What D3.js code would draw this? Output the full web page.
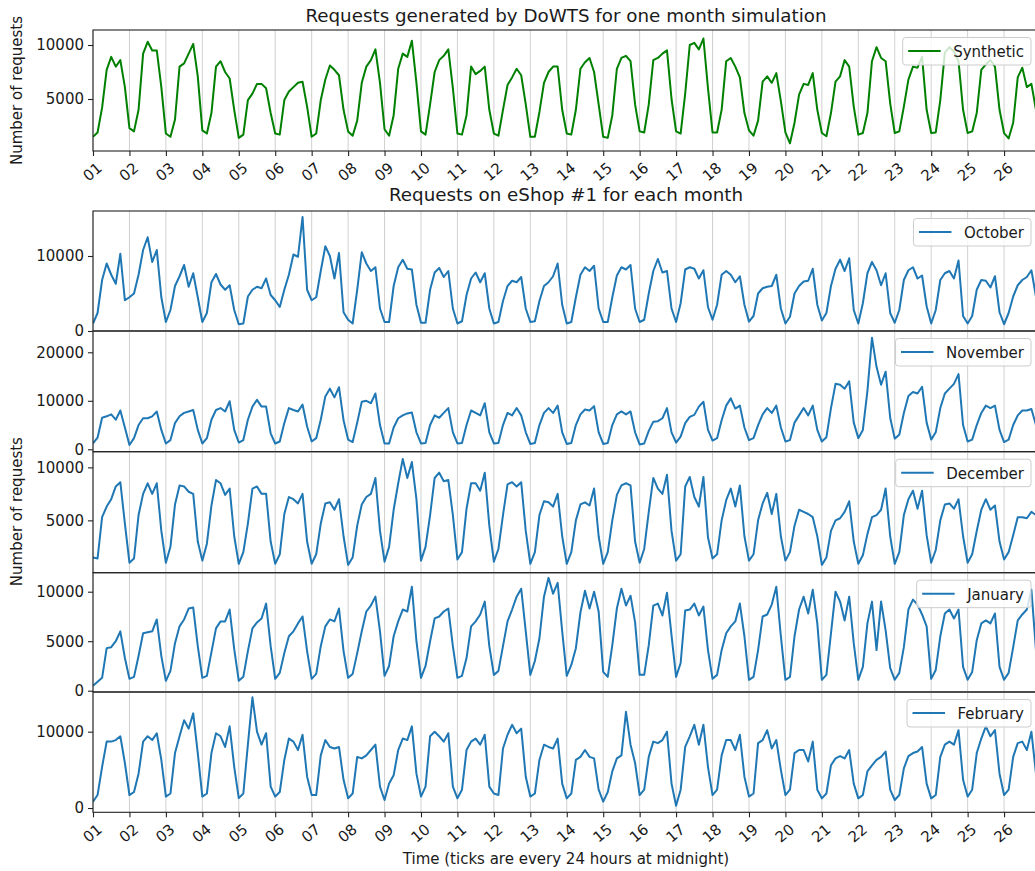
<!DOCTYPE html>
<html>
<head>
<meta charset="utf-8">
<script src="https://cdn.jsdelivr.net/npm/d3@7"></script>
<style>
  body { margin: 0; background: #fff; }
  text { font-family: "DejaVu Sans", sans-serif; fill: #1a1a1a; }
</style>
</head>
<body>
<svg id="chart"></svg>
<script>
// one row per day, values every 3 hours (00h, 03h, ... 21h)
const synthetic = [
  [1500, 1900, 4200, 7700, 8900, 8000, 8600, 6100],
  [2300, 2000, 4000, 9200, 10300, 9500, 9500, 6100],
  [1800, 1500, 3100, 8000, 8300, 9200, 10100, 7100],
  [2100, 1800, 3700, 8000, 8500, 7500, 6900, 4000],
  [1400, 1700, 4900, 5500, 6400, 6400, 6000, 3700],
  [1800, 1700, 4900, 5700, 6100, 6500, 6600, 4300],
  [1500, 1800, 4900, 6800, 8100, 7700, 7200, 4000],
  [2000, 1600, 3000, 6500, 8000, 8600, 9600, 6500],
  [2200, 1600, 3500, 7800, 9200, 8900, 10400, 6500],
  [2000, 1700, 4500, 7500, 8600, 9000, 9600, 6000],
  [1800, 1700, 3500, 8000, 7300, 7600, 8000, 4000],
  [1800, 1600, 4000, 6300, 7000, 7800, 7200, 4500],
  [1500, 1500, 3800, 6500, 7500, 8000, 8000, 4000],
  [1800, 1700, 4000, 7800, 8400, 8800, 7500, 4500],
  [1500, 1400, 3500, 7800, 8800, 9000, 8500, 4500],
  [2000, 1900, 4500, 8600, 8800, 9200, 9500, 5000],
  [2000, 1800, 5500, 10000, 10200, 9600, 10600, 6000],
  [1900, 1900, 4000, 8500, 8800, 8000, 7000, 3700],
  [2100, 1600, 3000, 6600, 7100, 6500, 7400, 4800],
  [1900, 900, 2800, 5400, 6400, 6300, 7400, 4000],
  [1850, 1550, 3700, 6600, 7100, 8600, 8000, 4300],
  [1700, 1850, 3700, 8500, 9800, 8800, 8500, 4600],
  [1850, 2000, 4300, 6800, 8000, 7900, 8900, 4000],
  [1850, 1900, 4900, 9300, 9800, 9400, 8500, 4000],
  [1850, 2000, 3700, 7700, 8200, 8600, 8000, 4000],
  [1850, 1350, 2800, 7000, 7900, 6100, 6400, 4000]
];

const october = [
  [1000, 2400, 6800, 9000, 7500, 6300, 10300, 4100],
  [4500, 5000, 7500, 10800, 12500, 9200, 10800, 4500],
  [1200, 2800, 6000, 7300, 8800, 5900, 7700, 4500],
  [1200, 2400, 6500, 7600, 6200, 5500, 6100, 2800],
  [900, 1000, 4600, 5500, 5900, 5700, 7000, 4800],
  [4100, 3200, 5500, 7500, 10200, 9900, 15200, 5500],
  [4100, 4500, 8000, 11300, 10000, 7000, 10400, 2500],
  [1500, 1000, 5500, 10500, 9000, 8000, 8500, 3000],
  [1200, 1200, 6000, 8500, 9500, 8300, 8200, 3500],
  [1100, 1100, 5500, 7800, 8400, 7200, 8000, 3000],
  [1000, 1300, 4800, 7000, 7800, 6500, 7700, 3000],
  [1000, 1200, 4000, 6000, 6700, 6500, 7200, 3000],
  [1200, 1300, 4000, 6000, 6500, 7300, 9000, 3500],
  [1000, 1200, 4500, 7500, 8500, 8000, 8700, 3000],
  [1200, 1200, 4500, 7400, 8500, 8200, 8800, 3000],
  [1200, 1500, 5000, 8000, 9600, 7800, 8000, 3000],
  [1200, 3700, 8200, 8500, 8300, 7000, 8100, 3200],
  [1500, 3500, 7500, 8000, 7500, 6500, 7300, 3500],
  [1250, 2000, 5000, 5700, 5900, 6000, 7500, 3000],
  [1000, 1900, 5000, 6000, 6600, 6700, 8300, 3500],
  [1400, 2400, 6000, 8300, 9500, 8000, 9700, 2800],
  [1000, 3700, 7700, 9200, 8100, 6100, 7700, 2400],
  [1100, 2800, 6800, 8100, 8500, 7000, 7400, 3300],
  [1000, 2800, 6800, 7700, 8000, 7000, 9400, 2000],
  [1000, 2000, 5500, 6800, 6700, 5800, 7300, 2500],
  [900, 2400, 4600, 6100, 6800, 7200, 8100, 4600]
];

const november = [
  [1200, 2400, 6500, 6800, 7200, 6100, 8000, 4500],
  [900, 2300, 5000, 6400, 6400, 6800, 7800, 4000],
  [1200, 1900, 5400, 6800, 7500, 7800, 8100, 4000],
  [1200, 2300, 6100, 8100, 8500, 7800, 9900, 4000],
  [1400, 1900, 6100, 8800, 10200, 8800, 8800, 3300],
  [1200, 1600, 5400, 8500, 8100, 7800, 9200, 4700],
  [1600, 2300, 6100, 10900, 12500, 10700, 12800, 6000],
  [2000, 1500, 5500, 9800, 10000, 9500, 11500, 5000],
  [1200, 1200, 4500, 6400, 7000, 7400, 7600, 3500],
  [1200, 1300, 5000, 7000, 6500, 7500, 8500, 3500],
  [1200, 1300, 5000, 8000, 7500, 7000, 9500, 3500],
  [1200, 1300, 5000, 7500, 7000, 8500, 7000, 3500],
  [1100, 1300, 5000, 7500, 8500, 7500, 9000, 3500],
  [1100, 1300, 5000, 7200, 8200, 8000, 8900, 3500],
  [1100, 1300, 5000, 7200, 7800, 7200, 7800, 3500],
  [1000, 1200, 3800, 5700, 5800, 6400, 8500, 3500],
  [1400, 2600, 5400, 6700, 7100, 8800, 9800, 4000],
  [1800, 2300, 6000, 9000, 10500, 8400, 9000, 4500],
  [1900, 2300, 5000, 7200, 8500, 7500, 9000, 4500],
  [1600, 1900, 5500, 7000, 8500, 7000, 9000, 4000],
  [1600, 2500, 8500, 13500, 13300, 12500, 14000, 5500],
  [2300, 4000, 12000, 23000, 17000, 13300, 16000, 6500],
  [2200, 3000, 7500, 11000, 11800, 11500, 12900, 5500],
  [2000, 3500, 8500, 11500, 12500, 13500, 15500, 5000],
  [1600, 2000, 5000, 7500, 9000, 8500, 9000, 4000],
  [1500, 2000, 5000, 7000, 8000, 8000, 8300, 5000]
];

const december = [
  [1500, 1400, 5300, 6300, 7000, 8200, 8600, 4700],
  [1000, 1400, 5500, 7500, 8500, 7500, 8500, 4000],
  [1000, 2500, 6500, 8300, 8200, 7700, 7500, 3000],
  [1200, 2800, 6400, 8800, 8500, 7400, 8000, 3500],
  [900, 2000, 4700, 8000, 8200, 7500, 7500, 3000],
  [900, 1800, 5600, 7200, 7000, 6600, 7500, 3000],
  [900, 1800, 4700, 6600, 6700, 6000, 7000, 3500],
  [800, 1500, 4500, 6500, 7200, 7500, 9000, 4000],
  [1100, 2500, 6000, 8500, 10800, 9000, 10500, 7000],
  [1200, 2500, 5500, 9000, 9500, 8700, 8800, 5500],
  [1300, 2000, 6100, 8500, 8500, 7800, 9500, 4500],
  [1100, 2300, 5500, 8400, 8600, 8200, 8600, 4000],
  [900, 2000, 5500, 6800, 6700, 6300, 7500, 3500],
  [900, 2000, 5000, 6500, 6700, 6400, 8000, 3500],
  [900, 2000, 5000, 7400, 8300, 8500, 8300, 3000],
  [1000, 2300, 5800, 9000, 8000, 7500, 9300, 4000],
  [1200, 1800, 8200, 9100, 7200, 6300, 9100, 3400],
  [1400, 1800, 5000, 6900, 8000, 6300, 8300, 3500],
  [1200, 1800, 5000, 6600, 7600, 5600, 7500, 3500],
  [1200, 2000, 4500, 6000, 5800, 5600, 5300, 3500],
  [800, 1500, 4000, 5000, 5200, 5800, 6800, 3000],
  [900, 1700, 3700, 5300, 5500, 6000, 8000, 3500],
  [900, 2000, 5500, 7000, 7800, 6100, 7800, 3600],
  [1000, 2200, 5000, 6500, 6600, 6100, 7000, 3500],
  [1000, 1800, 4000, 6000, 7000, 6000, 6400, 3000],
  [1300, 2000, 3600, 5300, 5300, 5200, 5800, 5500]
];

const january = [
  [500, 900, 1300, 4300, 4400, 5000, 6000, 3300],
  [1200, 1400, 3500, 5800, 5900, 6000, 7200, 3500],
  [1000, 2000, 4800, 6500, 7200, 8300, 8400, 4500],
  [1300, 1500, 3900, 6300, 7000, 7000, 8200, 4200],
  [1000, 1400, 4000, 6300, 6900, 7300, 8800, 4500],
  [1200, 1800, 3800, 5500, 6000, 6800, 7500, 4000],
  [1200, 1700, 4500, 6500, 7200, 7000, 8300, 4000],
  [1300, 1700, 3800, 6000, 8000, 8600, 9500, 6000],
  [1500, 2500, 5500, 7000, 8200, 8000, 10500, 5000],
  [1300, 2500, 5000, 7300, 7500, 8000, 8300, 4500],
  [1300, 1500, 3300, 6500, 7000, 7700, 9000, 4500],
  [1600, 2000, 4500, 7000, 8200, 9500, 10300, 6000],
  [1600, 3000, 5300, 9500, 11400, 9800, 10900, 6000],
  [1500, 2600, 4300, 7900, 10100, 8300, 10000, 8000],
  [1900, 1400, 4600, 8300, 10300, 8600, 9600, 6900],
  [1600, 1600, 4600, 8600, 8800, 7600, 9900, 5600],
  [1400, 2800, 8100, 8200, 8800, 7600, 8500, 4100],
  [1200, 1600, 4100, 5800, 6500, 7000, 8800, 5500],
  [1100, 1400, 4100, 7500, 7700, 8700, 10500, 5500],
  [1100, 1400, 5500, 8200, 9500, 7800, 10200, 6800],
  [1100, 1600, 5800, 10000, 9000, 7100, 9500, 4800],
  [1100, 2400, 6800, 9000, 4100, 9000, 6100, 2300],
  [1100, 1800, 4400, 8200, 9200, 8700, 7700, 6500],
  [1200, 2100, 5500, 7800, 8200, 7300, 8200, 2400],
  [1100, 1900, 5100, 6800, 7100, 6800, 7800, 2400],
  [1100, 1800, 4400, 7100, 7700, 8200, 10200, 4100]
];

const february = [
  [830, 1700, 5400, 8700, 8700, 8900, 9400, 5900],
  [1700, 2100, 4500, 8700, 9400, 8900, 9800, 6300],
  [1500, 1900, 7200, 9400, 11500, 10400, 12400, 7200],
  [1500, 1900, 7200, 9800, 9400, 8000, 10700, 5400],
  [1300, 1900, 8300, 14500, 10000, 8300, 9800, 2800],
  [1500, 2100, 6300, 9100, 8700, 7600, 9600, 4100],
  [1700, 1700, 6900, 8900, 8000, 7800, 8000, 3700],
  [1270, 1900, 6700, 6500, 6900, 7600, 8300, 2800],
  [1050, 3200, 4300, 7600, 9100, 8900, 10700, 4500],
  [1500, 2800, 9400, 10000, 9400, 8700, 9800, 2800],
  [1270, 2400, 7600, 8700, 9100, 8300, 9600, 2800],
  [1900, 1700, 7800, 9600, 10900, 9800, 10400, 4100],
  [1500, 1900, 6300, 8300, 8000, 7800, 9100, 3200],
  [1270, 1900, 6300, 6700, 7600, 6700, 6500, 2400],
  [830, 2100, 4800, 6500, 6900, 12600, 8300, 5900],
  [1700, 2400, 6700, 8700, 8500, 8900, 10000, 3200],
  [300, 2400, 8000, 9400, 10900, 8300, 10900, 5400],
  [1700, 2400, 6900, 8900, 8900, 7600, 9600, 4100],
  [1500, 1900, 8500, 8900, 10200, 7800, 8900, 5000],
  [1700, 2400, 7200, 7600, 7600, 6100, 8700, 2400],
  [1270, 1900, 5600, 6500, 6800, 6500, 7600, 3200],
  [1270, 1700, 4800, 5600, 6300, 6700, 7400, 2400],
  [1050, 1700, 5200, 6800, 7200, 7400, 8000, 3200],
  [1270, 1700, 6700, 8300, 8700, 8300, 10200, 3700],
  [1500, 2400, 7200, 9100, 10700, 9400, 10200, 4500],
  [1700, 2400, 6700, 8500, 8700, 7600, 10000, 4500]
];

const yTicks = {
  Synthetic: [5000, 10000],
  October: [0, 10000],
  November: [0, 10000, 20000],
  December: [5000, 10000],
  January: [0, 5000, 10000],
  February: [0, 10000]
};

const topTitle = "Requests generated by DoWTS for one month simulation";
const bottomTitle = "Requests on eShop #1 for each month";
const yLabel = "Number of requests";
const xLabel = "Time (ticks are every 24 hours at midnight)";

// layout
const W = 1035, H = 871;
const left = 93, right = 1039;
const fs = "15px", titleFs = "18.3px";
const stepHours = 3;
const start = new Date(2021, 0, 1);
const end = d3.timeHour.offset(start, 25 * 24 + 23);

const panels = [
  { name: "Synthetic", data: synthetic, color: "#008000", top: 30, bottom: 151, domain: [185, 11390] },
  { name: "October", data: october, color: "#1f77b4", top: 211, bottom: 331, domain: [0, 16000] },
  { name: "November", data: november, color: "#1f77b4", top: 331, bottom: 451.7, domain: [-495, 24390] },
  { name: "December", data: december, color: "#1f77b4", top: 451.7, bottom: 572.7, domain: [60, 11480] },
  { name: "January", data: january, color: "#1f77b4", top: 572.7, bottom: 692, domain: [-130, 11920] },
  { name: "February", data: february, color: "#1f77b4", top: 692, bottom: 812.3, domain: [-560, 15200] }
];

const svg = d3.select("#chart").attr("width", W).attr("height", H)
  .style("display", "block").style("background", "#fff");

const x = d3.scaleTime().domain([start, end]).range([left, right]);
const days = d3.timeDay.range(start, d3.timeHour.offset(end, 1));

panels.forEach(function (p, k) {
  const y = d3.scaleLinear().domain(p.domain).range([p.bottom, p.top]);
  const pts = p.data.flat().map((v, i) => ({ t: d3.timeHour.offset(start, i * stepHours), v: v }));

  const g = svg.append("g");
  const clipId = "clip" + k;
  g.append("clipPath").attr("id", clipId)
    .append("rect").attr("x", left).attr("y", p.top)
    .attr("width", right - left).attr("height", p.bottom - p.top);

  // vertical grid
  g.append("g").selectAll("line").data(days).enter().append("line")
    .attr("x1", d => x(d)).attr("x2", d => x(d))
    .attr("y1", p.top).attr("y2", p.bottom)
    .attr("stroke", "#b0b0b0").attr("stroke-opacity", 0.6).attr("stroke-width", 1);

  const line = d3.line().x(d => x(d.t)).y(d => y(d.v));
  g.append("path").datum(pts)
    .attr("clip-path", "url(#" + clipId + ")")
    .attr("fill", "none").attr("stroke", p.color)
    .attr("stroke-width", 2).attr("stroke-linejoin", "round")
    .attr("d", line);

  // frame
  g.append("rect").attr("x", left).attr("y", p.top)
    .attr("width", right - left).attr("height", p.bottom - p.top)
    .attr("fill", "none").attr("stroke", "#222").attr("stroke-width", 1.1);

  // y axis
  const ya = g.append("g").attr("transform", "translate(" + left + ",0)")
    .call(d3.axisLeft(y).tickValues(yTicks[p.name]).tickSize(5).tickPadding(4).tickFormat(d3.format("d")));
  ya.select(".domain").remove();
  ya.selectAll("line").attr("stroke", "#222").attr("stroke-width", 1.1);
  ya.selectAll("text").attr("font-size", fs).attr("fill", "#1a1a1a")
    .style("font-family", "'DejaVu Sans', sans-serif");

  // x axis on the first and last panels
  if (k === 0 || k === panels.length - 1) {
    const xa = g.append("g").attr("transform", "translate(0," + p.bottom + ")")
      .call(d3.axisBottom(x).tickValues(days).tickSize(5).tickFormat(d3.timeFormat("%d")));
    xa.select(".domain").remove();
    xa.selectAll("line").attr("stroke", "#222").attr("stroke-width", 1.1);
    xa.selectAll("text")
      .attr("y", 0).attr("dy", null)
      .attr("transform", "translate(-1,21) rotate(-40)")
      .attr("text-anchor", "middle").attr("dominant-baseline", "central")
      .attr("font-size", fs).attr("fill", "#1a1a1a")
      .style("font-family", "'DejaVu Sans', sans-serif");
  }

  // legend (upper right)
  const lg = g.append("g");
  const box = lg.append("rect");
  const txt = lg.append("text").text(p.name).attr("font-size", fs)
    .attr("dominant-baseline", "central");
  const tw = txt.node().getComputedTextLength();
  const bw = 5.5 + 32.5 + 12.5 + tw + 7;
  const bx = 1031 - bw, by = p.top + 7.5;
  box.attr("x", bx).attr("y", by).attr("width", bw).attr("height", 27.5)
    .attr("rx", 3).attr("fill", "#fff").attr("fill-opacity", 0.8)
    .attr("stroke", "#cccccc").attr("stroke-width", 1);
  lg.append("line").attr("x1", bx + 5.5).attr("x2", bx + 38)
    .attr("y1", by + 13.5).attr("y2", by + 13.5)
    .attr("stroke", p.color).attr("stroke-width", 2);
  txt.attr("x", bx + 50.5).attr("y", by + 14.5).raise();
});

// titles and labels
svg.append("text").attr("x", (left + right) / 2).attr("y", 21.5)
  .attr("text-anchor", "middle").attr("font-size", titleFs).text(topTitle);
svg.append("text").attr("x", (left + right) / 2).attr("y", 201)
  .attr("text-anchor", "middle").attr("font-size", titleFs).text(bottomTitle);

svg.append("text").attr("transform", "translate(22," + (30 + 151) / 2 + ") rotate(-90)")
  .attr("text-anchor", "middle").attr("font-size", fs).text(yLabel);
svg.append("text").attr("transform", "translate(22," + (211 + 812.3) / 2 + ") rotate(-90)")
  .attr("text-anchor", "middle").attr("font-size", fs).text(yLabel);

svg.append("text").attr("x", (left + right) / 2).attr("y", 864)
  .attr("text-anchor", "middle").attr("font-size", fs).text(xLabel);
</script>
</body>
</html>
